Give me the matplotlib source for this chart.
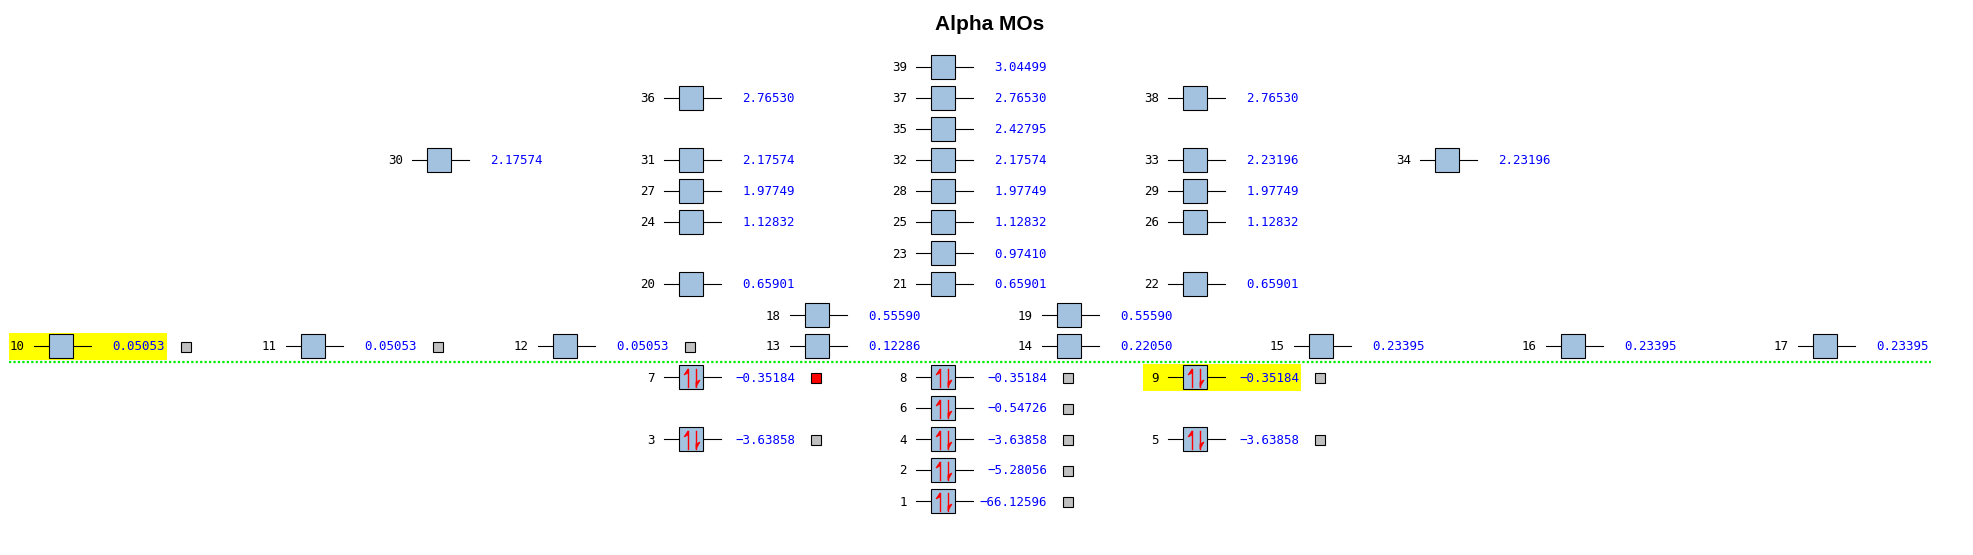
import matplotlib
matplotlib.use("Agg")
import matplotlib.pyplot as plt
import matplotlib.transforms as mtransforms
from matplotlib.patches import Rectangle, Polygon

# orbital number, energy, level (row) and slot (column) in the diagram
mo = list(range(1, 40))
energy = [-66.12596, -5.28056, -3.63858, -3.63858, -3.63858, -0.54726,
          -0.35184, -0.35184, -0.35184, 0.05053, 0.05053, 0.05053,
          0.12286, 0.22050, 0.23395, 0.23395, 0.23395, 0.55590, 0.55590,
          0.65901, 0.65901, 0.65901, 0.97410, 1.12832, 1.12832, 1.12832,
          1.97749, 1.97749, 1.97749, 2.17574, 2.17574, 2.17574, 2.23196,
          2.23196, 2.42795, 2.76530, 2.76530, 2.76530, 3.04499]
level = [14, 13, 12, 12, 12, 11, 10, 10, 10, 9, 9, 9, 9, 9, 9, 9, 9, 8, 8,
         7, 7, 7, 6, 5, 5, 5, 4, 4, 4, 3, 3, 3, 3, 3, 2, 1, 1, 1, 0]
slot = [0, 0, -2, 0, 2, 0, -2, 0, 2, -7, -5, -3, -1, 1, 3, 5, 7, -1, 1,
        -2, 0, 2, 0, -2, 0, 2, -2, 0, 2, -4, -2, 0, 2, 4, 0, -2, 0, 2, 0]
occupancy = [2] * 9 + [0] * 30
marked = list(range(1, 13))   # orbitals with a selection box
selected = [7]
homo, lumo = 9, 10

fig = plt.figure(figsize=(19.73, 5.55), dpi=100)
ax = fig.add_axes([0, 0, 1, 1])
ax.set_xlim(-943 / 126, 1030 / 126)
ax.set_ylim(488 / 31, -67 / 31)
ax.axis("off")

box_col = "#a3c2e0"
mono = "DejaVu Sans Mono"


def at(x, y):
    # pixel offsets (y downwards) around a data point
    return mtransforms.Affine2D().scale(1, -1) + mtransforms.ScaledTranslation(x, y, ax.transData)


for n, e, r, c, occ in zip(mo, energy, level, slot, occupancy):
    tr = at(c, r)
    if n in (homo, lumo):
        ax.add_patch(Rectangle((-52, -13), 158, 27, transform=tr, fc="#ffff00", ec="none", zorder=1))
    ax.plot([-27, -12], [0, 0], transform=tr, color="black", lw=0.8, zorder=2)
    ax.plot([12, 30], [0, 0], transform=tr, color="black", lw=0.8, zorder=2)
    ax.add_patch(Rectangle((-12, -12), 24, 24, transform=tr, fc=box_col, ec="black", lw=0.8, zorder=3))
    if occ == 2:
        ax.plot([-3, -3], [10, -8], transform=tr, color="red", lw=1.0, zorder=4)
        ax.add_patch(Polygon([[-3, -8], [-7, -2], [-3, -4]], closed=True, transform=tr,
                             fc="red", ec="red", lw=0.6, zorder=4))
        ax.plot([5, 5], [-8, 10], transform=tr, color="red", lw=1.0, zorder=4)
        ax.add_patch(Polygon([[5, 10], [9, 3], [5, 5]], closed=True, transform=tr,
                             fc="red", ec="red", lw=0.6, zorder=4))
    ax.text(-36, 1, str(n), transform=tr, ha="right", va="center", fontsize=9,
            family=mono, color="black", zorder=5)
    ax.text(104, 1, f"{e:.5f}".replace("-", "\u2212"), transform=tr, ha="right", va="center",
            fontsize=9, family=mono, color="#0000ff", zorder=5)
    if n in marked:
        ax.add_patch(Rectangle((120, -4), 10, 10, transform=tr,
                               fc="red" if n in selected else "#c0c0c0", ec="black", lw=0.8, zorder=3))

# Fermi level separator between HOMO and LUMO rows
px = (ax.get_xlim()[1] - ax.get_xlim()[0]) / 1973
y_sep = (level[homo - 1] + level[lumo - 1]) / 2
ax.plot([min(slot) - 52 * px, max(slot) + 106 * px], [y_sep, y_sep],
        color="#00ee00", lw=1.6, linestyle=(0, (1, 1)), zorder=2)

fig.suptitle("Alpha MOs", x=990 / 1973, y=1 - 24 / 555, va="center", fontsize=15,
             fontweight="bold", family="Liberation Sans")

fig.savefig("out.png", dpi=100)
